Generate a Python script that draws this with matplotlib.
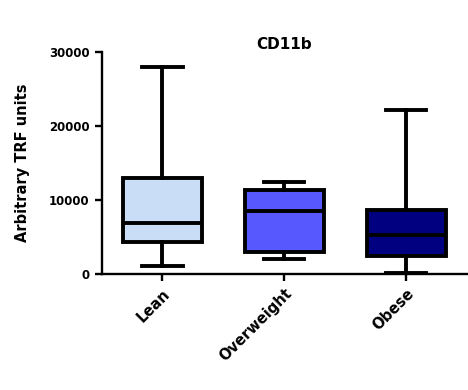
import matplotlib as mpl
import matplotlib.pyplot as plt

mpl.rcParams['font.family'] = 'DejaVu Sans'
mpl.rcParams['font.weight'] = 'bold'

groups = ['Lean', 'Overweight', 'Obese']
whislo = [1100, 2000, 200]
q1 = [4400, 3000, 2500]
med = [6900, 8500, 5300]
q3 = [13000, 11300, 8600]
whishi = [28000, 12500, 22200]
colors = ['#C9DDF7', '#5858FF', '#000080']

stats = []
for i, g in enumerate(groups):
    stats.append(dict(label=g, whislo=whislo[i], q1=q1[i], med=med[i],
                      q3=q3[i], whishi=whishi[i], fliers=[]))

fig = plt.figure(figsize=(4.68, 3.9), dpi=100)
ax = fig.add_axes([0.217, 0.297, 0.781, 0.570])

lw = 2.8
bp = ax.bxp(stats, positions=range(3), widths=0.65, patch_artist=True,
            showfliers=False,
            boxprops=dict(linewidth=lw, edgecolor='black'),
            medianprops=dict(color='black', linewidth=lw),
            whiskerprops=dict(color='black', linewidth=lw),
            capprops=dict(color='black', linewidth=lw),
            capwidths=0.33)
for patch, c in zip(bp['boxes'], colors):
    patch.set_facecolor(c)

ax.set_xlim(-0.5, 2.5)
ax.set_ylim(0, 30000)
ax.set_yticks([0, 10000, 20000, 30000])
ax.set_yticklabels(['0', '10000', '20000', '30000'], fontsize=8.5, fontweight='bold')
ax.set_xticks(range(3))
ax.set_xticklabels(groups, rotation=45, ha='right', rotation_mode='anchor',
                   fontsize=10.5, fontweight='bold')
ax.spines['top'].set_visible(False)
ax.spines['right'].set_visible(False)
ax.spines['left'].set_linewidth(1.7)
ax.spines['bottom'].set_linewidth(1.7)
ax.tick_params(width=1.7, length=5)
ax.set_ylabel('Arbitrary TRF units', fontsize=10.5, fontweight='bold', labelpad=14)
ax.set_title('CD11b', fontsize=11, fontweight='bold', pad=2)

fig.savefig('out.png', dpi=100)
